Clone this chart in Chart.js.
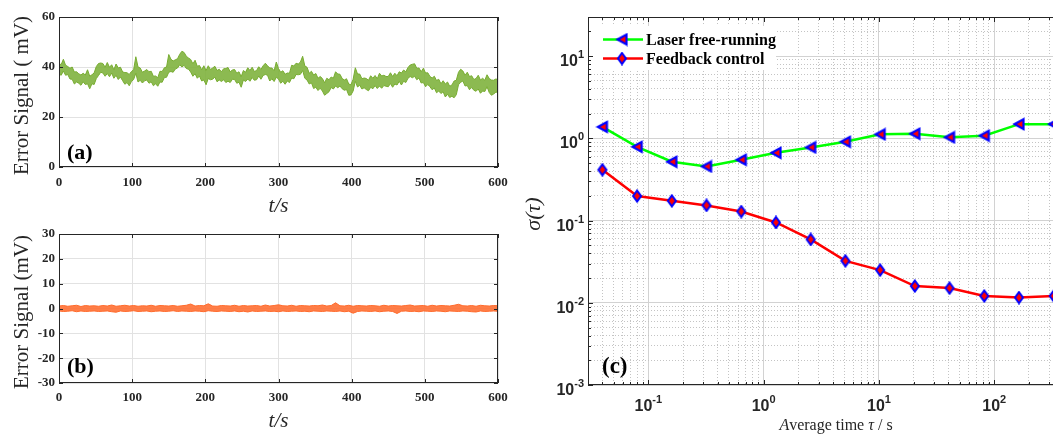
<!DOCTYPE html>
<html>
<head>
<meta charset="utf-8">
<script src="https://cdn.jsdelivr.net/npm/chart.js@4.4.1/dist/chart.umd.min.js"></script>
<style>
  html, body { margin: 0; padding: 0; background: #fff; overflow: hidden; }
  #wrap { position: relative; width: 1053px; height: 434px; overflow: hidden; background: #fff; }
  canvas { position: absolute; }
</style>
</head>
<body>
<div id="wrap">
  <canvas id="ca" width="520" height="225" style="left:0;top:0"></canvas>
  <canvas id="cb" width="520" height="219" style="left:0;top:215px"></canvas>
  <canvas id="cc" width="600" height="434" style="left:520px;top:0"></canvas>
</div>
<script>
// ---------------- data ----------------
// (a) error signal, laser free-running (mV): upper / lower edge of the noisy trace, one bin every 3 s
const stepA = 3;
const freeHigh = [
  41.2, 41.0, 43.1, 40.7, 40.2, 39.5, 40.0, 38.0, 38.1, 37.3,
  36.8, 37.5, 36.8, 38.9, 36.3, 36.9, 37.6, 40.2, 41.4, 41.6,
  41.4, 39.9, 41.8, 39.9, 40.9, 38.9, 41.2, 39.6, 39.9, 38.0,
  37.8, 37.7, 37.0, 38.2, 38.9, 44.1, 40.0, 39.6, 37.9, 38.4,
  39.0, 38.1, 38.3, 36.3, 36.4, 35.7, 38.3, 38.2, 39.7, 40.0,
  45.0, 43.1, 42.4, 42.9, 43.3, 45.1, 46.3, 45.8, 44.3, 43.6,
  43.0, 41.3, 42.7, 40.3, 40.6, 38.9, 40.5, 38.6, 40.5, 39.0,
  39.6, 40.3, 38.6, 39.1, 38.1, 39.3, 39.4, 39.8, 38.1, 38.8,
  39.0, 37.5, 38.1, 36.1, 38.6, 37.9, 39.7, 38.6, 39.9, 38.2,
  38.6, 40.1, 39.0, 40.5, 41.5, 40.5, 39.6, 39.6, 38.5, 42.0,
  39.4, 37.9, 38.5, 37.1, 37.6, 37.5, 40.7, 40.4, 41.5, 41.2,
  42.0, 44.3, 40.4, 39.9, 37.5, 38.3, 36.8, 37.4, 35.5, 36.2,
  35.4, 33.7, 35.5, 34.9, 36.0, 35.5, 38.1, 37.2, 37.1, 35.4,
  34.8, 35.3, 33.2, 32.9, 35.1, 39.7, 37.2, 37.2, 35.3, 35.6,
  35.4, 34.7, 36.5, 35.5, 36.6, 35.3, 37.5, 36.4, 36.7, 36.2,
  36.2, 37.7, 36.2, 37.5, 36.5, 38.1, 37.6, 38.8, 38.1, 39.8,
  40.8, 41.1, 41.3, 39.5, 39.6, 38.1, 39.5, 37.6, 37.7, 36.2,
  35.6, 36.3, 34.6, 35.1, 33.3, 34.5, 33.2, 34.0, 32.3, 32.8,
  34.4, 34.7, 37.9, 39.1, 38.4, 36.7, 37.9, 36.2, 36.5, 35.0,
  35.4, 36.7, 34.8, 35.5, 34.7, 36.9, 35.4, 34.8, 34.7, 35.2,
  35.0
];
const freeLow = [
  37.2, 36.7, 38.4, 36.7, 37.0, 35.2, 35.1, 33.2, 34.0, 33.5,
  32.7, 34.1, 33.0, 33.3, 31.3, 33.3, 33.0, 35.4, 36.6, 37.9,
  37.6, 36.3, 37.4, 36.1, 37.6, 35.5, 36.7, 35.0, 36.0, 34.5,
  33.1, 33.8, 32.5, 34.2, 35.0, 37.5, 34.0, 34.7, 33.6, 34.5,
  34.8, 33.5, 34.1, 32.5, 33.3, 32.3, 34.0, 33.9, 35.8, 35.9,
  37.9, 38.2, 37.9, 39.2, 39.6, 40.9, 40.0, 40.7, 39.4, 39.1,
  38.0, 36.3, 37.3, 35.5, 36.4, 34.4, 34.8, 32.9, 35.4, 34.9,
  35.1, 36.0, 34.1, 34.8, 34.2, 34.9, 33.8, 34.3, 33.8, 35.1,
  35.0, 33.5, 33.9, 31.9, 34.8, 34.2, 35.2, 34.3, 35.8, 34.7,
  34.9, 36.4, 35.1, 36.6, 37.0, 36.7, 34.4, 35.3, 34.2, 35.9,
  35.2, 33.5, 34.3, 33.1, 34.4, 33.8, 35.6, 35.3, 37.0, 36.9,
  37.1, 38.6, 35.5, 34.8, 33.2, 33.7, 31.4, 31.9, 30.6, 31.5,
  30.4, 28.7, 29.4, 30.1, 31.8, 31.2, 32.4, 31.7, 32.4, 31.3,
  30.7, 31.0, 28.7, 28.8, 30.4, 34.3, 32.0, 32.7, 31.2, 31.7,
  31.0, 30.5, 31.9, 31.3, 32.6, 31.4, 32.4, 31.5, 32.6, 32.3,
  32.1, 33.4, 31.9, 33.2, 32.8, 34.3, 32.8, 34.3, 33.8, 35.5,
  36.2, 35.7, 36.3, 34.9, 35.6, 33.6, 33.8, 32.1, 33.0, 32.1,
  30.9, 31.6, 29.7, 30.4, 29.4, 30.1, 28.0, 29.1, 27.8, 28.3,
  27.7, 28.9, 32.9, 33.9, 34.4, 32.4, 32.6, 30.9, 31.8, 30.7,
  30.3, 31.2, 29.5, 30.4, 30.2, 32.1, 29.8, 28.7, 29.2, 29.9,
  30.0
];

// (b) error signal, feedback control (mV): upper / lower edge, one bin every 6 s
const stepB = 6;
const lockedHigh = [
  1.0, 1.2, 0.9, 1.1, 1.3, 0.8, 1.2, 1.0, 1.1, 0.9,
  1.2, 1.0, 1.4, 0.9, 1.1, 1.3, 1.0, 1.2, 0.9, 1.1,
  1.0, 1.3, 0.9, 1.2, 1.1, 1.0, 1.2, 0.9, 1.1, 1.3,
  1.8, 1.0, 1.2, 1.1, 1.9, 1.0, 0.9, 1.2, 1.1, 1.0,
  1.3, 0.9, 1.2, 1.0, 1.1, 1.2, 0.9, 1.4, 1.0, 1.2,
  1.5, 1.1, 1.0, 1.3, 0.9, 1.2, 1.1, 1.0, 1.2, 1.1,
  1.4, 1.0, 1.2, 2.3, 1.1, 1.0, 1.3, 0.9, 1.2, 1.1,
  1.0, 1.2, 1.1, 0.9, 1.3, 1.0, 1.2, 1.1, 1.0, 1.2,
  1.4, 1.0, 1.1, 1.2, 0.9, 1.3, 1.0, 1.2, 1.1, 1.0,
  1.3, 1.7, 1.1, 1.0, 1.2, 0.9, 1.3, 1.1, 1.0, 1.2,
  1.1
];
const lockedLow = [
  -1.0, -1.2, -1.1, -0.9, -1.3, -1.0, -1.2, -1.1, -1.0, -1.2,
  -1.1, -1.0, -1.3, -1.5, -1.0, -1.2, -1.1, -0.9, -1.2, -1.1,
  -1.0, -1.3, -1.1, -1.0, -1.2, -1.1, -0.9, -1.2, -1.0, -1.1,
  -1.2, -1.0, -1.1, -1.3, -0.9, -1.1, -1.2, -1.0, -1.1, -1.2,
  -1.0, -1.3, -1.1, -1.4, -1.0, -1.2, -1.1, -1.0, -1.2, -1.1,
  -1.3, -1.0, -1.2, -1.1, -1.0, -1.2, -1.1, -1.3, -1.0, -1.1,
  -1.2, -1.0, -1.1, -1.2, -1.0, -1.3, -1.1, -1.9, -1.2, -1.0,
  -1.1, -1.2, -1.0, -1.3, -1.1, -1.0, -1.2, -2.0, -1.1, -1.0,
  -1.2, -1.1, -1.3, -1.0, -1.1, -1.2, -1.0, -1.1, -1.3, -1.0,
  -1.1, -1.2, -1.0, -1.1, -1.3, -1.4, -1.0, -1.2, -1.1, -1.0,
  -1.1
];

// (c) Allan deviation
const tau = [0.04, 0.08, 0.16, 0.32, 0.64, 1.28, 2.56, 5.12, 10.24, 20.48, 40.96, 81.92, 163.84, 327.68];
const sigmaFree = [1.38, 0.79, 0.52, 0.456, 0.55, 0.668, 0.777, 0.91, 1.12, 1.14, 1.03, 1.08, 1.49, 1.49];
const sigmaFeedback = [0.415, 0.199, 0.174, 0.153, 0.129, 0.095, 0.059, 0.0324, 0.025, 0.016, 0.0151, 0.0121, 0.0116, 0.0121];
const seriesNames = ['Laser free-running', 'Feedback control'];

const timesA = freeHigh.map((_, i) => i * stepA);
const timesB = lockedHigh.map((_, i) => i * stepB);

// ---------------- helpers ----------------
const AX = '#262626';
const SERIF = '"Liberation Serif", "Times New Roman", serif';
const SANS = '"Liberation Sans", Arial, sans-serif';

function isDecade(v) {
  const l = Math.log10(v);
  return Math.abs(l - Math.round(l)) < 1e-6;
}
function logTicks(min, max) {
  const out = [];
  for (let e = Math.floor(Math.log10(min) + 1e-9); e <= Math.ceil(Math.log10(max)); e++) {
    for (let m = 1; m <= 9; m++) {
      const v = +(m * Math.pow(10, e)).toPrecision(8);
      if (v >= min * 0.9999 && v <= max * 1.0001) out.push({ value: v });
    }
  }
  return out;
}
function drawBox(chart) {
  const { ctx, chartArea: a } = chart;
  ctx.save();
  ctx.strokeStyle = AX; ctx.lineWidth = 1;
  ctx.strokeRect(Math.round(a.left) + 0.5, Math.round(a.top) + 0.5,
                 Math.round(a.right) - Math.round(a.left) - 1, Math.round(a.bottom) - Math.round(a.top) - 1);
  ctx.restore();
}
function drawInTicks(chart, lenMaj, lenMin, majorFn) {
  const { ctx, chartArea: a, scales } = chart;
  ctx.save();
  ctx.strokeStyle = AX; ctx.lineWidth = 1;
  ctx.beginPath();
  scales.x.ticks.forEach(t => {
    const x = Math.round(scales.x.getPixelForValue(t.value)) + 0.5;
    const L = majorFn(t.value) ? lenMaj : lenMin;
    ctx.moveTo(x, a.bottom); ctx.lineTo(x, a.bottom - L);
    ctx.moveTo(x, a.top); ctx.lineTo(x, a.top + L);
  });
  scales.y.ticks.forEach(t => {
    const y = Math.round(scales.y.getPixelForValue(t.value)) + 0.5;
    const L = majorFn(t.value) ? lenMaj : lenMin;
    ctx.moveTo(a.left, y); ctx.lineTo(a.left + L, y);
    ctx.moveTo(a.right, y); ctx.lineTo(a.right - L, y);
  });
  ctx.stroke();
  ctx.restore();
}
function text(ctx, s, x, y, font, align, baseline, color, rot) {
  ctx.save();
  ctx.font = font; ctx.fillStyle = color || AX;
  ctx.textAlign = align || 'left'; ctx.textBaseline = baseline || 'alphabetic';
  ctx.translate(x, y);
  if (rot) ctx.rotate(rot);
  ctx.fillText(s, 0, 0);
  ctx.restore();
}

function timeSeriesChart(id, times, high, low, color, fillColor, yMin, yMax, yStep, padTop, xAxisH, tickPad, yTitle, tTitleY, letter, letterY) {
  return new Chart(document.getElementById(id), {
    type: 'line',
    data: {
      labels: times,
      datasets: [
        { data: high, borderColor: color, borderWidth: 1, pointRadius: 0, tension: 0, fill: false },
        { data: low, borderColor: color, borderWidth: 1, pointRadius: 0, tension: 0,
          fill: '-1', backgroundColor: fillColor }
      ]
    },
    options: {
      responsive: false, animation: false, events: [],
      layout: { padding: { left: 0, top: padTop, right: 22, bottom: 0 } },
      plugins: { legend: { display: false }, tooltip: { enabled: false } },
      scales: {
        x: {
          type: 'linear', min: 0, max: 600,
          afterFit: s => { s.height = xAxisH; },
          ticks: { stepSize: 100, color: AX, padding: tickPad, maxRotation: 0,
                   font: { family: SERIF, size: 13, weight: 'bold' } },
          grid: { color: '#e2e2e2', drawTicks: false },
          border: { display: false }
        },
        y: {
          min: yMin, max: yMax,
          afterFit: s => { s.width = 59; },
          ticks: { stepSize: yStep, color: AX, padding: 4,
                   font: { family: SERIF, size: 13, weight: 'bold' } },
          grid: { color: '#e2e2e2', drawTicks: false },
          border: { display: false }
        }
      }
    },
    plugins: [{
      id: 'decor_' + id,
      afterDraw(chart) {
        const { ctx, chartArea: a } = chart;
        drawBox(chart);
        drawInTicks(chart, 4, 4, () => true);
        const cy = (a.top + a.bottom) / 2 + 3.5;
        text(ctx, yTitle, 22, cy, '21px ' + SERIF, 'center', 'middle', AX, -Math.PI / 2);
        text(ctx, 't/s', (a.left + a.right) / 2, tTitleY, 'italic 21px ' + SERIF, 'center', 'alphabetic', AX);
        text(ctx, letter, 67, letterY, 'bold 22px ' + SERIF, 'left', 'alphabetic', '#000');
      }
    }]
  });
}

timeSeriesChart('ca', timesA, freeHigh, freeLow, '#77AC30', 'rgba(128,179,62,0.9)', 0, 60, 20, 17, 58, 8, 'Error Signal ( mV)', 212, '(a)', 159);
timeSeriesChart('cb', timesB, lockedHigh, lockedLow, '#FF6A2B', 'rgba(255,112,52,0.9)', -30, 30, 10, 19, 51, 7, 'Error Signal (mV)', 212, '(b)', 158);

// markers
function makeTriangle() {
  const c = document.createElement('canvas'); c.width = 14; c.height = 14;
  const g = c.getContext('2d');
  g.beginPath(); g.moveTo(2.5, 7); g.lineTo(11.5, 2); g.lineTo(11.5, 12); g.closePath();
  g.fillStyle = '#FF0000'; g.fill();
  g.strokeStyle = '#0000FF'; g.lineWidth = 2.2; g.lineJoin = 'miter'; g.stroke();
  return c;
}
function makeDiamond() {
  const c = document.createElement('canvas'); c.width = 12; c.height = 14;
  const g = c.getContext('2d');
  g.beginPath(); g.moveTo(6, 1.5); g.lineTo(10, 7); g.lineTo(6, 12.5); g.lineTo(2, 7); g.closePath();
  g.fillStyle = '#FF0000'; g.fill();
  g.strokeStyle = '#0000FF'; g.lineWidth = 2; g.lineJoin = 'miter'; g.stroke();
  return c;
}
const triImg = makeTriangle();
const diaImg = makeDiamond();

new Chart(document.getElementById('cc'), {
  type: 'line',
  data: {
    datasets: [
      { label: seriesNames[0], data: tau.map((t, i) => ({ x: t, y: sigmaFree[i] })),
        borderColor: '#00FF00', borderWidth: 2.5, pointStyle: triImg, pointRadius: 7, tension: 0, clip: false },
      { label: seriesNames[1], data: tau.map((t, i) => ({ x: t, y: sigmaFeedback[i] })),
        borderColor: '#FF0000', borderWidth: 2.5, pointStyle: diaImg, pointRadius: 7, tension: 0, clip: false }
    ]
  },
  options: {
    responsive: false, animation: false, events: [],
    layout: { padding: { left: 0, top: 17, right: 36, bottom: 0 } },
    plugins: { legend: { display: false }, tooltip: { enabled: false } },
    scales: {
      x: {
        type: 'logarithmic', min: 0.03, max: 600,
        afterBuildTicks: s => { s.ticks = logTicks(0.03, 600); },
        afterFit: s => { s.height = 49; },
        ticks: { display: false, autoSkip: false },
        grid: { drawTicks: false, lineWidth: 1,
                color: c => (c.tick && isDecade(c.tick.value)) ? '#d2d2d2' : '#c4c4c4' },
        border: { display: false, dash: c => (c.tick && !isDecade(c.tick.value)) ? [1, 2] : [] }
      },
      y: {
        type: 'logarithmic', min: 0.001, max: 30,
        afterBuildTicks: s => { s.ticks = logTicks(0.001, 30); },
        afterFit: s => { s.width = 68; },
        ticks: { display: false, autoSkip: false },
        grid: { drawTicks: false, lineWidth: 1,
                color: c => (c.tick && isDecade(c.tick.value)) ? '#d2d2d2' : '#c4c4c4' },
        border: { display: false, dash: c => (c.tick && !isDecade(c.tick.value)) ? [1, 2] : [] }
      }
    }
  },
  plugins: [{
    id: 'decor_c',
    afterDatasetsDraw(chart) {
      const { ctx } = chart;
      ctx.save();
      ctx.fillStyle = '#fff';
      ctx.fillRect(69, 26, 187, 44);
      const rows = [
        { name: seriesNames[0], color: '#00FF00', img: triImg, y: 39.5, base: 45 },
        { name: seriesNames[1], color: '#FF0000', img: diaImg, y: 58.5, base: 64 }
      ];
      rows.forEach(r => {
        ctx.strokeStyle = r.color; ctx.lineWidth = 2.5;
        ctx.beginPath(); ctx.moveTo(83, r.y); ctx.lineTo(123, r.y); ctx.stroke();
        ctx.drawImage(r.img, 102 - r.img.width / 2, r.y - r.img.height / 2);
        text(ctx, r.name, 126, r.base, 'bold 16px ' + SERIF, 'left', 'alphabetic', '#000');
      });
      ctx.restore();
    },
    afterDraw(chart) {
      const { ctx, chartArea: a, scales } = chart;
      drawBox(chart);
      drawInTicks(chart, 5, 3, isDecade);
      const big = 'bold 16px ' + SANS, small = 'bold 11px ' + SANS;
      scales.y.ticks.filter(t => isDecade(t.value)).forEach(t => {
        const y = scales.y.getPixelForValue(t.value);
        const sup = String(Math.round(Math.log10(t.value)));
        ctx.font = small; const sw = ctx.measureText(sup).width;
        const R = 64;
        text(ctx, sup, R - sw, y - 1, small, 'left', 'middle', AX);
        text(ctx, '10', R - sw, y + 5.5, big, 'right', 'middle', AX);
      });
      scales.x.ticks.filter(t => isDecade(t.value)).forEach(t => {
        const x = scales.x.getPixelForValue(t.value);
        const sup = String(Math.round(Math.log10(t.value)));
        ctx.font = small; const sw = ctx.measureText(sup).width;
        ctx.font = big; const bw = ctx.measureText('10').width;
        const x0 = x - (bw + sw) / 2;
        text(ctx, '10', x0, 407, big, 'left', 'middle', AX);
        text(ctx, sup, x0 + bw, 400, small, 'left', 'middle', AX);
      });
      const cx = (a.left + a.right) / 2;
      const parts = [
        ['A', 'italic 16px ' + SERIF], ['verage time ', '16px ' + SERIF],
        ['τ', 'italic 16px ' + SERIF], [' / s', '16px ' + SERIF]
      ];
      let tw = 0;
      parts.forEach(p => { ctx.font = p[1]; tw += ctx.measureText(p[0]).width; });
      let px = cx - tw / 2;
      parts.forEach(p => {
        ctx.font = p[1]; const w = ctx.measureText(p[0]).width;
        text(ctx, p[0], px, 430, p[1], 'left', 'alphabetic', AX);
        px += w;
      });
      text(ctx, 'σ(τ)', 14, 214, 'italic 22px ' + SERIF, 'center', 'middle', AX, -Math.PI / 2);
      text(ctx, '(c)', 82, 373, 'bold 23px ' + SERIF, 'left', 'alphabetic', '#000');
    }
  }]
});
</script>
</body>
</html>
